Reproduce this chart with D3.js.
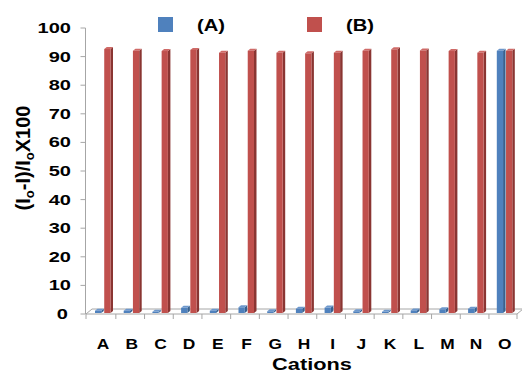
<!DOCTYPE html>
<html><head><meta charset="utf-8">
<script src="https://cdn.jsdelivr.net/npm/d3@7"></script>
<style>body{margin:0;background:#fff}text{font-family:"Liberation Sans",Arial,sans-serif;font-weight:bold;fill:#000}</style>
</head><body><svg id="c" width="522" height="375"></svg>
<script>
const categories = ["A","B","C","D","E","F","G","H","I","J","K","L","M","N","O"];
const seriesNames = ["(A)","(B)"];
const valuesA = [0.8,0.8,0.4,1.8,0.8,2.0,0.6,1.5,1.9,0.6,0.4,0.9,1.3,1.5,91.7];
const valuesB = [92.3,91.7,91.6,92.0,91.0,91.7,91.0,90.8,91.0,91.7,92.2,91.8,91.6,91.0,91.7];
const yTicks = [0,10,20,30,40,50,60,70,80,90,100];

const svg = d3.select("#c");
const SX = 1.25;
const colors = {front:["#4f81bd","#c0504d"], side:["#38618f","#8a3532"], top:["#6c97cc","#cf6a67"]};

const y = d3.scaleLinear().domain([0,100]).range([314,28]);
const x = d3.scaleBand().domain(categories).range([88.65, 519.15]).padding(0);
const inner = d3.scaleBand().domain([0,1]).range([-8, 10]).paddingInner(0.05);

function stext(g, str, tx, ty, size, anchor, sx){
  const t = g.append("text").attr("transform", `translate(${tx},${ty}) scale(${sx||SX},1)`)
    .attr("font-size", size).attr("text-anchor", anchor||"middle").text(str);
  return t;
}

// floor
const fx0 = 86, fx1 = 517, dX = 6, dY = -5, fy = y(0);
svg.append("path").attr("d", `M${fx0},${fy}L${fx1},${fy}L${fx1+dX},${fy+dY}L${fx0+dX},${fy+dY}Z`)
  .attr("fill","#fff").attr("stroke","#a6a6a6").attr("stroke-width",1);
// x ticks
categories.forEach((c,i)=>{
  const bx = x(c) - 1.5;
  if(i>0) svg.append("line").attr("x1",bx).attr("x2",bx).attr("y1",fy).attr("y2",fy+5).attr("stroke","#a6a6a6");
});
svg.append("line").attr("x1",fx0).attr("x2",fx0).attr("y1",fy).attr("y2",fy+5).attr("stroke","#a6a6a6");
svg.append("line").attr("x1",fx1).attr("x2",fx1).attr("y1",fy).attr("y2",fy+5).attr("stroke","#a6a6a6");

// y axis
svg.append("line").attr("x1",85.5).attr("x2",85.5).attr("y1",y(100)).attr("y2",y(0)).attr("stroke","#a6a6a6");
yTicks.forEach(v=>{
  svg.append("line").attr("x1",80.5).attr("x2",85.5).attr("y1",y(v)).attr("y2",y(v)).attr("stroke","#a6a6a6");
  stext(svg, String(v), v===0 ? 68 : 71, y(v)+5, 14.5, "end", 1.38);
});

// bars
const depthX = 2.5, depthY = -2, base = y(0) - 1;
const yb = v => y(v) - 1;
categories.forEach((c,i)=>{
  const cx = x(c) + x.bandwidth()/2;
  [valuesA[i], valuesB[i]].forEach((v,s)=>{
    const bw = inner.bandwidth() - depthX;
    const x0 = cx + inner(s), x1 = x0 + bw;
    const t = yb(v);
    const g = svg.append("g");
    g.append("path").attr("d",`M${x1},${base}L${x1+depthX},${base+depthY}L${x1+depthX},${t+depthY}L${x1},${t}Z`).attr("fill",colors.side[s]);
    g.append("path").attr("d",`M${x0},${t}L${x1},${t}L${x1+depthX},${t+depthY}L${x0+depthX},${t+depthY}Z`).attr("fill",colors.top[s]);
    g.append("rect").attr("x",x0).attr("y",t).attr("width",bw).attr("height",Math.max(0,base-t)).attr("fill",colors.front[s]);
  });
  stext(svg, c, cx, 349, 15.5, "middle", 1.12);
});

// axis titles
stext(svg, "Cations", 312, 370, 17, "middle", 1.28);
const yt = svg.append("text").attr("transform","translate(30,158) rotate(-90)").attr("text-anchor","middle").attr("font-size",20);
yt.append("tspan").text("(I");
yt.append("tspan").attr("font-size",13).attr("dy",4).text("o");
yt.append("tspan").attr("dy",-4).text("-I)/I");
yt.append("tspan").attr("font-size",13).attr("dy",4).text("o");
yt.append("tspan").attr("dy",-4).text("X100");

// legend
const leg = [[158,197],[307,346]];
seriesNames.forEach((n,s)=>{
  svg.append("rect").attr("x",leg[s][0]).attr("y",17).attr("width",15).attr("height",15).attr("fill",colors.front[s]);
  stext(svg, n, leg[s][1], 31, 16, "start", 1.26);
});
</script></body></html>
